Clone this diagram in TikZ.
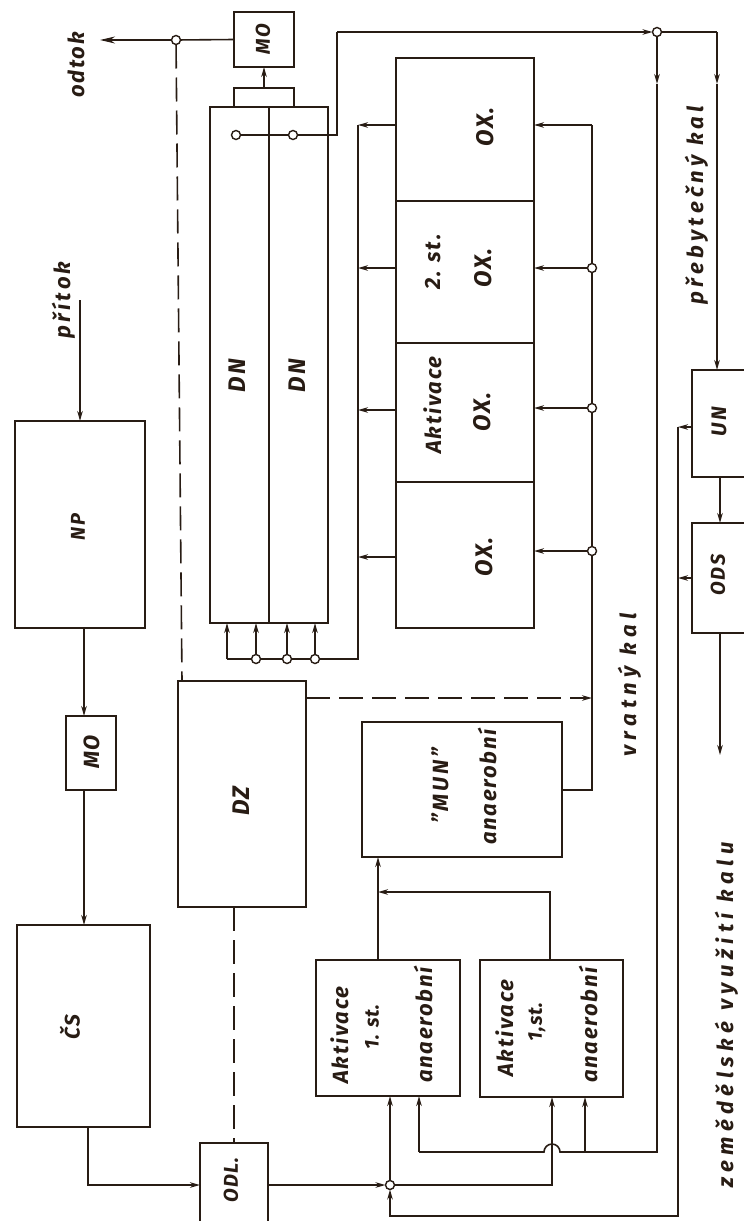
\documentclass[tikz,border=0pt]{standalone}
\usepackage{fontspec}
\setmainfont{Fira Sans}
\usetikzlibrary{arrows.meta}
\definecolor{ink}{RGB}{40,28,20}
\newcommand\lf[2]{\fontsize{#1}{#1}\selectfont\bfseries\itshape\addfontfeature{LetterSpace=#2}}
\tikzset{
  box/.style={draw=ink, line width=2.6pt, inner sep=0pt, outer sep=0pt, anchor=north west},
  conn/.style={draw=ink, line width=1.6pt},
  arr/.style={conn, -{Stealth[length=10pt,width=5.5pt]}},
  dashln/.style={conn, dash pattern=on 24pt off 9pt},
  junc/.style={circle, draw=ink, fill=white, line width=1.4pt, minimum size=9pt, inner sep=0pt, outer sep=0pt},
  lbl/.style={rotate=90, text=ink, inner sep=0pt, anchor=center},
}
\begin{document}
\begin{tikzpicture}[x=1pt,y=-1pt]
\useasboundingbox (0,0) rectangle (744,1221);
% ---------------- boxes
\node[box, minimum width=130pt, minimum height=207pt] (np) at (15,421) {};
\node[box, minimum width=50pt, minimum height=74pt] (mo1) at (66,716) {};
\node[box, minimum width=133pt, minimum height=202pt] (cs) at (17,925) {};
\node[box, minimum width=68pt, minimum height=100pt] (odl) at (200,1143) {};
\node[box, minimum width=128pt, minimum height=226pt] (dz) at (178,681) {};
\node[box, minimum width=118pt, minimum height=516pt] (dn) at (210,107) {};
\node[box, minimum width=60pt, minimum height=19pt] (dncap) at (234,88) {};
\node[box, minimum width=60pt, minimum height=55pt] (mo2) at (234,12) {};
\node[box, minimum width=138pt, minimum height=143pt] (ox1) at (396,58) {};
\node[box, minimum width=138pt, minimum height=142pt] (ox2) at (396,201) {};
\node[box, minimum width=138pt, minimum height=139pt] (ox3) at (396,343) {};
\node[box, minimum width=138pt, minimum height=146pt] (ox4) at (396,482) {};
\node[box, minimum width=200pt, minimum height=135pt] (mun) at (362,722) {};
\node[box, minimum width=144pt, minimum height=136pt] (ak1) at (316,960) {};
\node[box, minimum width=143pt, minimum height=137pt] (ak2) at (480,960) {};
\node[box, minimum width=56pt, minimum height=107pt] (un) at (692,370) {};
\node[box, minimum width=56pt, minimum height=110pt] (ods) at (692,523) {};
\draw[draw=ink, line width=2.6pt] (dn.north) -- (dn.south);
% ---------------- labels
\node[lbl, font=\lf{22}{8}] (lodtok) at (76,65) {odtok};
\node[lbl, font=\lf{22}{15}] (lpritok) at (64,300) {přítok};
\node[lbl, font=\lf{20}{8}] (lnp) at (78,527) {NP};
\node[lbl, font=\lf{22}{8}] (lmo1) at (92,752) {MO};
\node[lbl, font=\lf{20}{8}] (lmo2) at (263,39) {MO};
\node[lbl, font=\lf{21}{8}] (lcs) at (70,1027) {ČS};
\node[lbl, font=\lf{20}{6}] (lodl) at (231,1180) {ODL.};
\node[lbl, font=\lf{24}{8}] (ldz) at (241,801) {DZ};
\node[lbl, font=\lf{24}{12}] (ldn1) at (237,376) {DN};
\node[lbl, font=\lf{24}{12}] (ldn2) at (297,376) {DN};
\node[lbl, font=\lf{24}{8}] (lox1) at (485,127) {OX.};
\node[lbl, font=\lf{22}{8}] (l2st) at (433,262) {2. st.};
\node[lbl, font=\lf{24}{8}] (lox2) at (483,268) {OX.};
\node[lbl, font=\lf{22}{8}] (lakt3) at (433,405) {Aktivace};
\node[lbl, font=\lf{24}{8}] (lox3) at (482,412) {OX.};
\node[lbl, font=\lf{24}{8}] (lox4) at (484,557) {OX.};
\node[lbl, font=\lf{22}{12}] (lmun) at (440,786) {"MUN"};
\node[lbl, font=\lf{22}{8}] (lmunan) at (487,787) {anaerobní};
\node[lbl, font=\lf{22}{8}] (lak1a) at (340,1035) {Aktivace};
\node[lbl, font=\lf{20}{3}] (lak1b) at (372,1027) {1. st.};
\node[lbl, font=\lf{22}{8}] (lak1c) at (423,1025) {anaerobní};
\node[lbl, font=\lf{22}{8}] (lak2a) at (505,1028) {Aktivace};
\node[lbl, font=\lf{20}{3}] (lak2b) at (537,1022) {1,st.};
\node[lbl, font=\lf{22}{8}] (lak2c) at (588,1025) {anaerobní};
\node[lbl, font=\lf{21}{12}] (lun) at (719,422) {UN};
\node[lbl, font=\lf{20}{10}] (lods) at (718,575) {ODS};
\node[lbl, font=\lf{22}{20}] (lpreb) at (697,205) {přebytečný kal};
\node[lbl, font=\lf{22}{25}] (lvrat) at (630,685) {vratný kal};
\node[lbl, font=\lf{22}{25}] (lzem) at (727,1015) {zemědělské využití kalu};
% ---------------- main line
\coordinate (pin) at (80,300);
\draw[arr] (pin) -- (pin |- np.north);
\coordinate (xl) at (84,0);
\draw[arr] (np.south -| xl) -- (mo1.north -| xl);
\draw[arr] (mo1.south -| xl) -- (cs.north -| xl);
\coordinate (c1) at (88,1185);
\draw[arr] (cs.south -| c1) -- (c1) -- (c1 -| odl.west);
\node[junc] (jb) at (390,1185) {};
\draw[arr] (odl.east |- jb) -- (jb);
\draw[arr] (jb) -- (jb |- ak1.south);
\coordinate (jb2) at (552,1185);
\draw[arr] (jb) -- (jb2) -- (jb2 |- ak2.south);
% ---------------- return from UN / ODS
\coordinate (u1) at (678,427);
\coordinate (u2) at (678,578);
\coordinate (b1) at (678,1216);
\coordinate (b0) at (390,1216);
\draw[arr] (u1 -| un.west) -- (u1);
\draw[arr] (u2 -| ods.west) -- (u2);
\draw[arr] (u1) -- (b1) -- (b0) -- (jb);
% ---------------- outflow
\node[junc] (jo) at (176,40) {};
\coordinate (odtokend) at (100,40);
\draw[conn] (mo2.west) -- (jo);
\draw[conn, -{Stealth[length=15pt,width=7pt]}] (jo) -- (odtokend);
\draw[dashln] (jo) -- ([xshift=4pt]dz.north west);
\draw[dashln] (dz.south -| odl.north) -- (odl.north);
\draw[arr] (dncap.north) -- (mo2.south);
% ---------------- sludge from DN
\node[junc] (s1) at (236,135) {};
\node[junc] (s2) at (293,135) {};
\coordinate (s3) at (337,135);
\coordinate (s4) at (337,32);
\node[junc] (jt) at (657,32) {};
\draw[conn] (s1) -- (s2) -- (s3) -- (s4);
\draw[arr] (s4) -- (jt);
\coordinate (t1) at (717,32);
\coordinate (t2) at (717,84);
\draw[conn] (jt) -- (t1);
\draw[arr] (t1) -- (t2);
\draw[arr] (t2) -- (t2 |- un.north);
\draw[arr] (un.south -| 720,0) -- (ods.north -| 720,0);
\coordinate (zv) at (720,755);
\draw[arr] (ods.south -| zv) -- (zv);
% ---------------- return sludge (vratny kal)
\coordinate (r0) at (657,84);
\coordinate (r1) at (657,1152);
\coordinate (r2) at (585,1152);
\coordinate (r3) at (419,1152);
\coordinate (hop) at (560,1152);
\draw[arr] (jt) -- (r0);
\draw[conn] (r0) -- (r1) -- (hop) arc[start angle=0, end angle=-180, radius=8] -- (r3);
\draw[arr] (r3) -- (r3 |- ak1.south);
\draw[arr] (r2) -- (r2 |- ak2.south);
% ---------------- anaerobic stages
\coordinate (ma) at (378,892);
\coordinate (mb) at (550,892);
\draw[arr] (ma |- ak1.north) -- (ma |- mun.south);
\draw[arr] (mb |- ak2.north) -- (mb) -- (ma);
% ---------------- feed to OX tanks
\coordinate (f1) at (592,125);
\node[junc] (f2) at (592,268) {};
\node[junc] (f3) at (592,408) {};
\node[junc] (f4) at (592,551) {};
\coordinate (f5) at (592,790);
\coordinate (dz1) at (592,698);
\draw[conn] (f1) -- (f2) -- (f3) -- (f4) -- (f5) -- (f5 -| mun.east);
\draw[arr] (f1) -- (f1 -| ox1.east);
\draw[arr] (f2) -- (f2 -| ox2.east);
\draw[arr] (f3) -- (f3 -| ox3.east);
\draw[arr] (f4) -- (f4 -| ox4.east);
\draw[dashln, -{Stealth[length=10pt,width=5.5pt]}] ([yshift=-17pt]dz.north east) -- (dz1);
% ---------------- OX outlets to DN
\coordinate (o1) at (358,125);
\coordinate (o2) at (358,268);
\coordinate (o3) at (358,410);
\coordinate (o4) at (358,557);
\draw[arr] (o1 -| ox1.west) -- (o1);
\draw[arr] (o2 -| ox2.west) -- (o2);
\draw[arr] (o3 -| ox3.west) -- (o3);
\draw[arr] (o4 -| ox4.west) -- (o4);
\coordinate (d0) at (358,659);
\coordinate (d1) at (227,659);
\node[junc] (d2) at (256,659) {};
\node[junc] (d3) at (287,659) {};
\node[junc] (d4) at (315,659) {};
\draw[conn] (o1) -- (d0) -- (d4) -- (d3) -- (d2) -- (d1);
\draw[arr] (d1) -- (d1 |- dn.south);
\draw[arr] (d2) -- (d2 |- dn.south);
\draw[arr] (d3) -- (d3 |- dn.south);
\draw[arr] (d4) -- (d4 |- dn.south);
\end{tikzpicture}
\end{document}
